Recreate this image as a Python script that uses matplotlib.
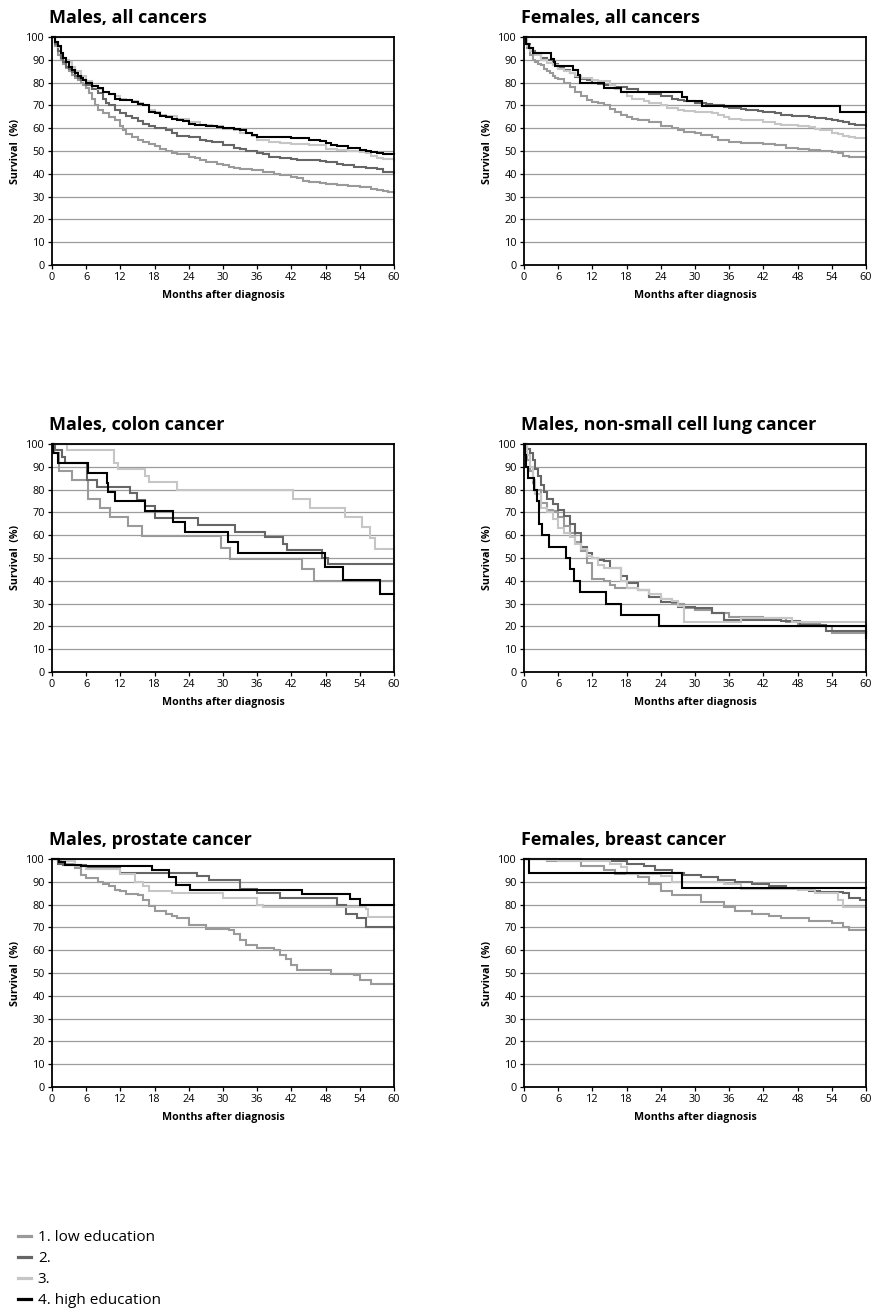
import matplotlib
matplotlib.use("Agg")
import matplotlib.pyplot as plt
from matplotlib.lines import Line2D

plt.rcParams['font.family'] = ['Open Sans', 'DejaVu Sans']

# ---------------------------------------------------------------- legend
group_labels = ["1. low education", "2.", "3.", "4. high education"]
group_colors = ["#9a9a9a", "#666666", "#c6c6c6", "#000000"]

panel_titles = ["Males, all cancers", "Females, all cancers",
                "Males, colon cancer", "Males, non-small cell lung cancer",
                "Males, prostate cancer", "Females, breast cancer"]

x_ticks = [0, 6, 12, 18, 24, 30, 36, 42, 48, 54, 60]
y_ticks = [0, 10, 20, 30, 40, 50, 60, 70, 80, 90, 100]

# ------------------------------------------------ Males, all cancers
ma_t1 = [0, 0.5, 1, 1.5, 2, 2.5, 3, 3.5, 4, 4.5, 5, 5.5, 6, 6.5, 7, 7.5, 8, 9, 10, 11, 12, 12.5, 13, 14, 15, 16, 17, 18, 19, 20, 21, 22, 24, 25, 26, 27, 29, 30, 31, 32, 33, 35, 37, 39, 40, 42, 43, 44, 45, 47, 48, 50, 52, 54, 56, 57, 58, 59, 60]
ma_s1 = [100, 96, 92, 90, 88, 86.5, 85, 83.5, 82, 81, 80, 79, 77.5, 75.5, 73, 70, 68, 66.5, 65, 63.5, 61, 59, 57.5, 56, 55, 54, 53, 52, 51, 50, 49, 48.5, 47.5, 47, 46, 45, 44.5, 44, 43, 42.5, 42, 41.5, 41, 40, 39.5, 38.5, 38, 37, 36.5, 36, 35.5, 35, 34.5, 34, 33.5, 33, 32.5, 32, 31.5]
ma_t2 = [0, 0.5, 1, 1.5, 2, 2.5, 3, 3.5, 4, 4.5, 5, 6, 7, 8, 9, 9.5, 10, 11, 12, 13, 14, 15, 16, 17, 18, 20, 21, 22, 24, 26, 27, 28, 30, 32, 33, 34, 36, 37, 38, 40, 42, 43, 47, 48, 50, 51, 53, 55, 57, 58, 60]
ma_s2 = [100, 97, 94, 91, 89, 87, 86, 84.5, 83, 82, 81, 79, 77, 75.5, 73, 71, 70, 68, 66.5, 65.5, 64.5, 63, 62, 61, 60, 59, 58, 56.5, 56, 55, 54.5, 54, 52.5, 51.5, 51, 50, 49, 48.5, 47.5, 47, 46.5, 46, 45.5, 45, 44.5, 44, 43, 42.5, 42, 41, 40.5]
ma_t3 = [0, 0.5, 1, 1.5, 2, 2.5, 3, 3.5, 4, 5, 6, 7, 8, 9, 10, 11, 12, 13, 14, 15, 16, 17, 18, 19, 20, 22, 24, 26, 28, 30, 32, 33, 35, 36, 38, 40, 42, 45, 48, 50, 52, 54, 55, 56, 57, 58, 60]
ma_s3 = [100, 98, 95.5, 93, 91, 90, 89, 87, 85, 83, 80.5, 78.5, 77, 76, 75, 74, 73, 72.5, 72, 71, 70, 68, 67, 66, 65.5, 64, 62.5, 61.5, 61, 59.5, 59, 58, 56.5, 55, 54, 53.5, 53, 52.5, 51, 50.5, 50, 49.5, 49, 48, 47, 46.5, 46]
ma_t4 = [0, 0.5, 1, 1.5, 2, 2.5, 3, 3.5, 4, 4.5, 5, 5.5, 6, 7, 8, 9, 10, 11, 12, 14, 15, 16, 17, 18, 19, 20, 21, 22, 23, 24, 25, 27, 29, 30, 32, 33, 34, 35, 36, 42, 45, 47, 48, 49, 50, 52, 54, 55, 56, 57, 58, 60]
ma_s4 = [100, 98, 96, 93, 91, 89, 87, 85.5, 84, 83, 82, 81, 80, 78.5, 77.5, 76, 75, 73, 72.5, 71.5, 70.5, 70, 67, 66.5, 65.5, 65, 64, 63.5, 63, 62, 61.5, 61, 60.5, 60, 59.5, 59, 58, 57, 56, 55.5, 55, 54.5, 53.5, 52.5, 52, 51.5, 50.5, 50, 49.5, 49, 48.5, 48.5]

# ---------------------------------------------- Females, all cancers
fa_t1 = [0, 0.5, 1, 1.5, 2, 2.5, 3, 3.5, 4, 4.5, 5, 5.5, 6, 7, 8, 9, 10, 11, 12, 13, 14, 15, 16, 17, 18, 19, 20, 22, 24, 26, 27, 28, 30, 31, 33, 34, 36, 38, 42, 44, 46, 48, 50, 52, 54, 55, 56, 57, 60]
fa_s1 = [100, 95, 92, 90, 89, 88, 87.5, 86, 85, 84, 83, 82, 81.5, 80, 78, 76, 74, 72.5, 71.5, 71, 70, 68.5, 67, 66, 65, 64, 63.5, 62.5, 61, 60, 59, 58.5, 58, 57, 56, 55, 54, 53.5, 53, 52.5, 51.5, 51, 50.5, 50, 49.5, 49, 48, 47.5, 47]
fa_t2 = [0, 0.5, 1, 1.5, 2, 3, 4, 5, 6, 7, 8, 9, 10, 11, 12, 13, 14, 16, 18, 20, 22, 24, 26, 27, 28, 30, 32, 33, 35, 36, 38, 39, 41, 42, 44, 45, 47, 50, 51, 53, 54, 55, 56, 57, 58, 60]
fa_s2 = [100, 97, 95, 94, 93, 91, 90, 88, 86.5, 85.5, 84, 82.5, 81.5, 81, 80, 79.5, 79, 78, 77, 76, 75, 74, 73, 72.5, 72, 71, 70.5, 70, 69.5, 69, 68.5, 68, 67.5, 67, 66.5, 66, 65.5, 65, 64.5, 64, 63.5, 63, 62.5, 62, 61.5, 61]
fa_t3 = [0, 0.5, 1, 1.5, 2, 3, 4, 5, 6, 7, 8, 9, 10, 12, 13, 15, 16, 17, 18, 19, 21, 22, 24, 25, 27, 28, 30, 33, 34, 35, 36, 38, 42, 44, 45, 48, 50, 51, 52, 54, 55, 56, 57, 58, 60]
fa_s3 = [100, 96, 94, 93, 92, 90, 88.5, 87.5, 86, 85, 84, 83, 82, 81, 80.5, 79, 77, 76, 74, 73, 72, 71, 70, 69, 68, 67.5, 67, 66.5, 66, 65, 64, 63.5, 62.5, 62, 61.5, 61, 60.5, 59.5, 59, 58, 57.5, 56.5, 56, 55.5, 55.5]
fa_t4 = [0, 0.3, 0.8, 1.5, 4.7, 5.2, 5.5, 8.6, 9.4, 9.8, 14.1, 17.1, 27.7, 28.6, 31.2, 55.5, 60]
fa_s4 = [100, 97, 95, 92.8, 90.5, 89, 87.3, 85.5, 83.4, 79.7, 77.8, 75.8, 73.9, 72, 69.8, 67.2, 67.2]

# ------------------------------------------------ Males, colon cancer
co_t1 = [0, 0.3, 1.2, 3.5, 6.4, 8.4, 10.2, 13.4, 15.8, 29.7, 31.2, 43.8, 46, 60]
co_s1 = [100, 96, 88, 84, 76, 72, 68, 64, 59.5, 54.5, 49.5, 45, 40, 40]
co_t2 = [0, 0.5, 1.7, 2.3, 6.1, 7.9, 13.7, 14.9, 16.3, 18.1, 25.7, 32.1, 37.4, 40.6, 41.2, 47.3, 48.5, 60]
co_s2 = [100, 97.5, 94.5, 91.7, 84, 81, 78.5, 75.6, 73, 67.5, 64.5, 61.5, 59, 56, 53.3, 50, 47.3, 47.3]
co_t3 = [0, 2.7, 10.8, 11.5, 16.3, 17, 22, 42.3, 45.3, 51.4, 54.3, 55.8, 56.6, 60]
co_s3 = [100, 97.2, 91.7, 88.9, 86.1, 83.3, 80, 75.8, 72, 68, 63.5, 58.8, 54, 27]
co_t4 = [0, 0.2, 1, 6.4, 9.6, 9.9, 11, 16.3, 21.3, 23.4, 30.9, 32.7, 47.9, 51.1, 57.5, 60]
co_s4 = [100, 96, 91.5, 87.5, 83, 79, 75, 70.5, 66, 61.5, 57, 52, 46, 40.5, 34, 34]

# ---------------------------------- Males, non-small cell lung cancer
lu_t1 = [0, 0.5, 1, 1.5, 2, 3, 4, 5, 6, 7, 8, 9, 10, 11, 12, 14, 15, 16, 20, 22, 24, 26, 28, 30, 33, 36, 42, 46, 48, 52, 54, 60]
lu_s1 = [100, 93, 88, 83, 80, 74, 71, 70.5, 68, 64, 61, 57, 53, 48, 41, 40, 38, 37, 36, 33, 32, 30, 28, 27, 26, 24, 23.5, 22, 21, 20, 17, 17]
lu_t2 = [0, 0.5, 1, 1.5, 2, 2.5, 3, 3.5, 4, 5, 6, 7, 8, 9, 10, 11, 12, 13, 14, 15, 17, 18, 20, 22, 24, 27, 30, 33, 35, 45, 48.5, 53, 60]
lu_s2 = [100, 98, 96, 93, 89, 86, 82, 79, 76, 73.5, 71, 68.5, 65, 61, 55, 52, 50, 49, 48.5, 45.5, 42, 39, 36, 33, 30.5, 28.5, 28, 26, 23, 22.5, 20.5, 18, 18]
lu_t3 = [0, 0.5, 1, 1.5, 2, 3, 4, 5, 6, 7, 8, 9, 10, 11, 12, 13, 14, 17, 18, 20, 22, 24, 26, 27, 28, 38, 46, 47, 48, 50, 56, 60]
lu_s3 = [100, 95, 90, 84, 78, 72, 70, 67, 63, 61, 59, 56, 54, 51, 50, 47, 45.5, 40, 37, 36, 34, 32, 31, 29, 22, 23.5, 23.5, 22, 22, 22, 22, 14]
lu_t4 = [0, 0.2, 0.4, 0.7, 1.7, 2.2, 2.6, 3.1, 4.3, 7.4, 8, 8.8, 9.9, 14.4, 17, 23.6, 60]
lu_s4 = [100, 95, 90, 85, 80, 75, 65, 60, 55, 50, 45, 40, 35, 30, 25, 20, 15]

# ---------------------------------------------- Males, prostate cancer
pr_t1 = [0, 1, 2, 4, 5, 6, 8, 9, 10, 11, 12, 13, 15, 16, 17, 18, 20, 21, 22, 24, 27, 31, 32, 33, 34, 36, 39, 40, 41, 42, 43, 48, 49, 53, 54, 56, 60]
pr_s1 = [100, 99, 98, 96, 93, 91.5, 90, 89, 88, 86.5, 86, 84.5, 84, 82, 79.5, 77, 76, 75, 74, 71, 69.5, 69, 67, 64.5, 62.5, 61, 60, 58, 56, 53.5, 51.5, 51.5, 49.5, 49, 47, 45, 43]
pr_t2 = [0, 1, 2, 6, 12, 25.5, 27.5, 33, 36, 40, 50, 51.5, 53.5, 55, 60]
pr_s2 = [100, 98, 97.5, 96, 94, 92.5, 91, 87, 85, 83, 80, 76, 74, 70, 69.5]
pr_t3 = [0, 2, 4, 6, 12, 14.5, 16, 17, 21, 30, 36, 37, 55, 55.5, 60]
pr_s3 = [100, 99, 97, 95.5, 93.5, 90, 88, 86, 85, 83, 80, 79, 78, 74.5, 74.5]
pr_t4 = [0, 1.3, 2.3, 5, 17.5, 20.5, 21.7, 24.2, 43.8, 52.3, 54, 60]
pr_s4 = [100, 98.5, 97.5, 97, 95, 92, 88.5, 86.5, 84.5, 82.5, 80, 80]

# ---------------------------------------------- Females, breast cancer
br_t1 = [0, 4, 10, 14, 16, 20, 22, 24, 26, 31, 35, 37, 40, 43, 45, 50, 54, 56, 57, 60]
br_s1 = [100, 99, 97, 95, 93.5, 92, 89, 86, 84, 81, 79, 77, 76, 75, 74, 73, 72, 70, 69, 69]
br_t2 = [0, 8, 10, 15, 18, 21, 23, 26, 28, 31, 34, 37, 40, 43, 46, 48, 50, 52, 56, 57, 59, 60]
br_s2 = [100, 99.8, 99.5, 99, 98, 97, 95, 94, 93, 92, 91, 90, 89, 88, 87.5, 87, 86, 85.5, 85, 83, 82, 82]
br_t3 = [0, 4, 6, 15, 17, 18, 24, 26, 35, 38, 48, 51, 55, 56, 60]
br_s3 = [100, 99.5, 99, 98, 96.5, 93.5, 92.5, 90, 89, 87, 86.5, 85, 82, 79, 78]
br_t4 = [0, 0.8, 27.8, 60]
br_s4 = [100, 94, 87.5, 87.5]

panel_series = [
    [(ma_t1, ma_s1), (ma_t2, ma_s2), (ma_t3, ma_s3), (ma_t4, ma_s4)],
    [(fa_t1, fa_s1), (fa_t2, fa_s2), (fa_t3, fa_s3), (fa_t4, fa_s4)],
    [(co_t1, co_s1), (co_t2, co_s2), (co_t3, co_s3), (co_t4, co_s4)],
    [(lu_t1, lu_s1), (lu_t2, lu_s2), (lu_t3, lu_s3), (lu_t4, lu_s4)],
    [(pr_t1, pr_s1), (pr_t2, pr_s2), (pr_t3, pr_s3), (pr_t4, pr_s4)],
    [(br_t1, br_s1), (br_t2, br_s2), (br_t3, br_s3), (br_t4, br_s4)],
]

# ------------------------------------------------------------- layout
W, H = 875, 1313
fig = plt.figure(figsize=(W / 100, H / 100), dpi=100)
fig.patch.set_facecolor("white")

col_left = [52, 524]
row_top = [37, 444, 859]
ax_w, ax_h = 342, 228

for i, (title, series) in enumerate(zip(panel_titles, panel_series)):
    r, c = divmod(i, 2)
    left = col_left[c] / W
    bottom = 1 - (row_top[r] + ax_h) / H
    ax = fig.add_axes([left, bottom, ax_w / W, ax_h / H])

    ax.set_xlim(0, 60)
    ax.set_ylim(0, 100)
    ax.set_xticks(x_ticks)
    ax.set_yticks(y_ticks)
    ax.tick_params(axis="both", direction="out", length=3, width=0.9,
                   labelsize=7.8, pad=2, colors="#000000")
    ax.grid(axis="y", color="#9c9c9c", linewidth=0.9)
    ax.set_axisbelow(True)
    for sp in ax.spines.values():
        sp.set_color("#000000")
        sp.set_linewidth(1.3)
        sp.set_zorder(5)

    for (t, s), col in zip(series, group_colors):
        ax.plot(t, s, drawstyle="steps-post", color=col, linewidth=1.5,
                solid_joinstyle="miter", clip_on=False, zorder=3)

    ax.set_xlabel("Months after diagnosis", fontsize=7.7, fontweight="bold",
                  labelpad=5)
    ax.set_ylabel("Survival  (%)", fontsize=7.7, fontweight="bold", labelpad=4)
    ax.text(-0.01, 1.062, title, transform=ax.transAxes, fontsize=13,
            fontweight="bold", ha="left", va="baseline")

handles = [Line2D([0], [0], color=col, linewidth=2.3) for col in group_colors]
fig.legend(handles, group_labels, loc="upper left",
           bbox_to_anchor=(18 / W, 1 - 1230 / H), frameon=False,
           fontsize=11, handlelength=0.85, handletextpad=0.45,
           labelspacing=0.4, borderpad=0, borderaxespad=0)

fig.savefig("out.png", dpi=100, facecolor="white")
